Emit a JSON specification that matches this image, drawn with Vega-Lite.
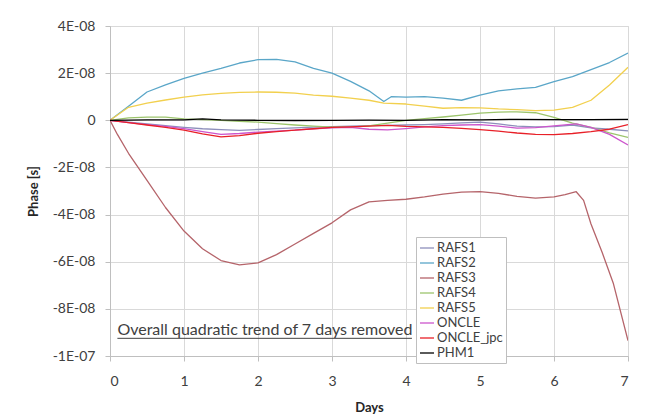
{
  "$schema": "https://vega.github.io/schema/vega-lite/v6.json",
  "width": 518,
  "height": 330,
  "autosize": {"type": "none"},
  "padding": {"left": 110, "top": 26, "right": 20, "bottom": 63},
  "background": "white",
  "config": {
    "font": "Lato",
    "view": {"stroke": "#d9d9d9"},
    "axis": {
      "gridColor": "#d9d9d9",
      "domainColor": "#bfbfbf",
      "tickColor": "#bfbfbf",
      "tickSize": 5,
      "labelColor": "#404040",
      "labelFontSize": 14,
      "titleFontSize": 13,
      "titleFontWeight": "bold",
      "titleColor": "#262626"
    },
    "legend": {
      "orient": "none",
      "legendX": 306,
      "legendY": 211,
      "strokeColor": "#bfbfbf",
      "fillColor": "white",
      "padding": 3,
      "symbolType": "stroke",
      "symbolSize": 196,
      "labelFontSize": 13,
      "labelColor": "#404040",
      "rowPadding": 0,
      "labelOffset": 2
    }
  },
  "data": {
    "values": [
      {"series": "RAFS1", "day": 0, "phase": 0},
      {"series": "RAFS1", "day": 0.25, "phase": -0.8e-9},
      {"series": "RAFS1", "day": 0.5, "phase": -1.5e-9},
      {"series": "RAFS1", "day": 0.75, "phase": -2.3e-9},
      {"series": "RAFS1", "day": 1, "phase": -3e-9},
      {"series": "RAFS1", "day": 1.25, "phase": -3.6e-9},
      {"series": "RAFS1", "day": 1.5, "phase": -4e-9},
      {"series": "RAFS1", "day": 1.75, "phase": -4.3e-9},
      {"series": "RAFS1", "day": 2, "phase": -3.9e-9},
      {"series": "RAFS1", "day": 2.25, "phase": -3.5e-9},
      {"series": "RAFS1", "day": 2.5, "phase": -3.2e-9},
      {"series": "RAFS1", "day": 2.75, "phase": -2.9e-9},
      {"series": "RAFS1", "day": 3, "phase": -2.7e-9},
      {"series": "RAFS1", "day": 3.25, "phase": -2.5e-9},
      {"series": "RAFS1", "day": 3.5, "phase": -2.3e-9},
      {"series": "RAFS1", "day": 3.75, "phase": -2.2e-9},
      {"series": "RAFS1", "day": 4, "phase": -2e-9},
      {"series": "RAFS1", "day": 4.25, "phase": -1.8e-9},
      {"series": "RAFS1", "day": 4.5, "phase": -1.5e-9},
      {"series": "RAFS1", "day": 4.75, "phase": -1.1e-9},
      {"series": "RAFS1", "day": 5, "phase": -0.8e-9},
      {"series": "RAFS1", "day": 5.25, "phase": -1.5e-9},
      {"series": "RAFS1", "day": 5.5, "phase": -2.5e-9},
      {"series": "RAFS1", "day": 5.75, "phase": -2.8e-9},
      {"series": "RAFS1", "day": 6, "phase": -2.7e-9},
      {"series": "RAFS1", "day": 6.25, "phase": -2e-9},
      {"series": "RAFS1", "day": 6.5, "phase": -3.2e-9},
      {"series": "RAFS1", "day": 6.75, "phase": -3.8e-9},
      {"series": "RAFS1", "day": 7, "phase": -4.5e-9},

      {"series": "RAFS2", "day": 0, "phase": 0},
      {"series": "RAFS2", "day": 0.25, "phase": 6e-9},
      {"series": "RAFS2", "day": 0.5, "phase": 12e-9},
      {"series": "RAFS2", "day": 0.75, "phase": 15e-9},
      {"series": "RAFS2", "day": 1, "phase": 17.8e-9},
      {"series": "RAFS2", "day": 1.25, "phase": 20e-9},
      {"series": "RAFS2", "day": 1.5, "phase": 22e-9},
      {"series": "RAFS2", "day": 1.75, "phase": 24.3e-9},
      {"series": "RAFS2", "day": 2, "phase": 25.7e-9},
      {"series": "RAFS2", "day": 2.25, "phase": 25.8e-9},
      {"series": "RAFS2", "day": 2.5, "phase": 24.8e-9},
      {"series": "RAFS2", "day": 2.75, "phase": 22e-9},
      {"series": "RAFS2", "day": 3, "phase": 20e-9},
      {"series": "RAFS2", "day": 3.25, "phase": 16.5e-9},
      {"series": "RAFS2", "day": 3.5, "phase": 12.5e-9},
      {"series": "RAFS2", "day": 3.7, "phase": 8e-9},
      {"series": "RAFS2", "day": 3.8, "phase": 10e-9},
      {"series": "RAFS2", "day": 4, "phase": 9.8e-9},
      {"series": "RAFS2", "day": 4.25, "phase": 10e-9},
      {"series": "RAFS2", "day": 4.5, "phase": 9.4e-9},
      {"series": "RAFS2", "day": 4.75, "phase": 8.5e-9},
      {"series": "RAFS2", "day": 5, "phase": 10.7e-9},
      {"series": "RAFS2", "day": 5.25, "phase": 12.5e-9},
      {"series": "RAFS2", "day": 5.5, "phase": 13.3e-9},
      {"series": "RAFS2", "day": 5.75, "phase": 14e-9},
      {"series": "RAFS2", "day": 6, "phase": 16.4e-9},
      {"series": "RAFS2", "day": 6.25, "phase": 18.5e-9},
      {"series": "RAFS2", "day": 6.5, "phase": 21.5e-9},
      {"series": "RAFS2", "day": 6.75, "phase": 24.5e-9},
      {"series": "RAFS2", "day": 7, "phase": 28.5e-9},

      {"series": "RAFS3", "day": 0, "phase": 0},
      {"series": "RAFS3", "day": 0.1, "phase": -6e-9},
      {"series": "RAFS3", "day": 0.25, "phase": -14e-9},
      {"series": "RAFS3", "day": 0.5, "phase": -25.5e-9},
      {"series": "RAFS3", "day": 0.75, "phase": -37e-9},
      {"series": "RAFS3", "day": 1, "phase": -47e-9},
      {"series": "RAFS3", "day": 1.25, "phase": -54.5e-9},
      {"series": "RAFS3", "day": 1.5, "phase": -59.5e-9},
      {"series": "RAFS3", "day": 1.75, "phase": -61.3e-9},
      {"series": "RAFS3", "day": 2, "phase": -60.5e-9},
      {"series": "RAFS3", "day": 2.25, "phase": -57e-9},
      {"series": "RAFS3", "day": 2.5, "phase": -52.5e-9},
      {"series": "RAFS3", "day": 2.75, "phase": -48e-9},
      {"series": "RAFS3", "day": 3, "phase": -43.5e-9},
      {"series": "RAFS3", "day": 3.25, "phase": -38e-9},
      {"series": "RAFS3", "day": 3.5, "phase": -34.6e-9},
      {"series": "RAFS3", "day": 3.75, "phase": -34e-9},
      {"series": "RAFS3", "day": 4, "phase": -33.5e-9},
      {"series": "RAFS3", "day": 4.25, "phase": -32.5e-9},
      {"series": "RAFS3", "day": 4.5, "phase": -31.3e-9},
      {"series": "RAFS3", "day": 4.75, "phase": -30.5e-9},
      {"series": "RAFS3", "day": 5, "phase": -30.3e-9},
      {"series": "RAFS3", "day": 5.25, "phase": -31e-9},
      {"series": "RAFS3", "day": 5.5, "phase": -32.3e-9},
      {"series": "RAFS3", "day": 5.75, "phase": -33e-9},
      {"series": "RAFS3", "day": 6, "phase": -32.5e-9},
      {"series": "RAFS3", "day": 6.15, "phase": -31.5e-9},
      {"series": "RAFS3", "day": 6.3, "phase": -30.3e-9},
      {"series": "RAFS3", "day": 6.4, "phase": -34e-9},
      {"series": "RAFS3", "day": 6.5, "phase": -44e-9},
      {"series": "RAFS3", "day": 6.65, "phase": -56e-9},
      {"series": "RAFS3", "day": 6.8, "phase": -69e-9},
      {"series": "RAFS3", "day": 7, "phase": -93.5e-9},

      {"series": "RAFS4", "day": 0, "phase": 0},
      {"series": "RAFS4", "day": 0.25, "phase": 1e-9},
      {"series": "RAFS4", "day": 0.5, "phase": 1.3e-9},
      {"series": "RAFS4", "day": 0.75, "phase": 1.3e-9},
      {"series": "RAFS4", "day": 1, "phase": 0.6e-9},
      {"series": "RAFS4", "day": 1.25, "phase": 0.3e-9},
      {"series": "RAFS4", "day": 1.5, "phase": 0},
      {"series": "RAFS4", "day": 1.75, "phase": -0.4e-9},
      {"series": "RAFS4", "day": 2, "phase": -0.8e-9},
      {"series": "RAFS4", "day": 2.25, "phase": -1.4e-9},
      {"series": "RAFS4", "day": 2.5, "phase": -2e-9},
      {"series": "RAFS4", "day": 2.75, "phase": -2.5e-9},
      {"series": "RAFS4", "day": 3, "phase": -2.9e-9},
      {"series": "RAFS4", "day": 3.25, "phase": -2.9e-9},
      {"series": "RAFS4", "day": 3.5, "phase": -2.4e-9},
      {"series": "RAFS4", "day": 3.75, "phase": -1.2e-9},
      {"series": "RAFS4", "day": 4, "phase": 0},
      {"series": "RAFS4", "day": 4.25, "phase": 0.7e-9},
      {"series": "RAFS4", "day": 4.5, "phase": 1.4e-9},
      {"series": "RAFS4", "day": 4.75, "phase": 2.2e-9},
      {"series": "RAFS4", "day": 5, "phase": 3e-9},
      {"series": "RAFS4", "day": 5.25, "phase": 3.5e-9},
      {"series": "RAFS4", "day": 5.5, "phase": 3.6e-9},
      {"series": "RAFS4", "day": 5.75, "phase": 3.2e-9},
      {"series": "RAFS4", "day": 6, "phase": 1.2e-9},
      {"series": "RAFS4", "day": 6.25, "phase": -1.2e-9},
      {"series": "RAFS4", "day": 6.5, "phase": -3e-9},
      {"series": "RAFS4", "day": 6.75, "phase": -5.3e-9},
      {"series": "RAFS4", "day": 7, "phase": -7.3e-9},

      {"series": "RAFS5", "day": 0, "phase": 0},
      {"series": "RAFS5", "day": 0.25, "phase": 5.5e-9},
      {"series": "RAFS5", "day": 0.5, "phase": 7.3e-9},
      {"series": "RAFS5", "day": 0.75, "phase": 8.6e-9},
      {"series": "RAFS5", "day": 1, "phase": 9.8e-9},
      {"series": "RAFS5", "day": 1.25, "phase": 10.8e-9},
      {"series": "RAFS5", "day": 1.5, "phase": 11.4e-9},
      {"series": "RAFS5", "day": 1.75, "phase": 11.8e-9},
      {"series": "RAFS5", "day": 2, "phase": 12e-9},
      {"series": "RAFS5", "day": 2.25, "phase": 11.9e-9},
      {"series": "RAFS5", "day": 2.5, "phase": 11.5e-9},
      {"series": "RAFS5", "day": 2.75, "phase": 10.7e-9},
      {"series": "RAFS5", "day": 3, "phase": 10.2e-9},
      {"series": "RAFS5", "day": 3.25, "phase": 9.4e-9},
      {"series": "RAFS5", "day": 3.5, "phase": 8.5e-9},
      {"series": "RAFS5", "day": 3.7, "phase": 7.3e-9},
      {"series": "RAFS5", "day": 4, "phase": 6.9e-9},
      {"series": "RAFS5", "day": 4.25, "phase": 6e-9},
      {"series": "RAFS5", "day": 4.5, "phase": 5.1e-9},
      {"series": "RAFS5", "day": 4.75, "phase": 5.4e-9},
      {"series": "RAFS5", "day": 5, "phase": 5.3e-9},
      {"series": "RAFS5", "day": 5.25, "phase": 4.8e-9},
      {"series": "RAFS5", "day": 5.5, "phase": 4.5e-9},
      {"series": "RAFS5", "day": 5.75, "phase": 4.1e-9},
      {"series": "RAFS5", "day": 6, "phase": 4.3e-9},
      {"series": "RAFS5", "day": 6.25, "phase": 5.5e-9},
      {"series": "RAFS5", "day": 6.5, "phase": 8.5e-9},
      {"series": "RAFS5", "day": 6.75, "phase": 15e-9},
      {"series": "RAFS5", "day": 7, "phase": 22.5e-9},

      {"series": "ONCLE", "day": 0, "phase": 0},
      {"series": "ONCLE", "day": 0.25, "phase": -1e-9},
      {"series": "ONCLE", "day": 0.5, "phase": -1.8e-9},
      {"series": "ONCLE", "day": 0.75, "phase": -2.6e-9},
      {"series": "ONCLE", "day": 1, "phase": -3.5e-9},
      {"series": "ONCLE", "day": 1.25, "phase": -4.8e-9},
      {"series": "ONCLE", "day": 1.5, "phase": -6e-9},
      {"series": "ONCLE", "day": 1.75, "phase": -5.6e-9},
      {"series": "ONCLE", "day": 2, "phase": -5e-9},
      {"series": "ONCLE", "day": 2.25, "phase": -4.6e-9},
      {"series": "ONCLE", "day": 2.5, "phase": -4.2e-9},
      {"series": "ONCLE", "day": 2.75, "phase": -3.6e-9},
      {"series": "ONCLE", "day": 3, "phase": -3.2e-9},
      {"series": "ONCLE", "day": 3.25, "phase": -3e-9},
      {"series": "ONCLE", "day": 3.5, "phase": -3.8e-9},
      {"series": "ONCLE", "day": 3.75, "phase": -4.1e-9},
      {"series": "ONCLE", "day": 4, "phase": -3.5e-9},
      {"series": "ONCLE", "day": 4.25, "phase": -2.8e-9},
      {"series": "ONCLE", "day": 4.5, "phase": -2.3e-9},
      {"series": "ONCLE", "day": 4.75, "phase": -2e-9},
      {"series": "ONCLE", "day": 5, "phase": -1.8e-9},
      {"series": "ONCLE", "day": 5.25, "phase": -2.5e-9},
      {"series": "ONCLE", "day": 5.5, "phase": -3.3e-9},
      {"series": "ONCLE", "day": 5.75, "phase": -3.1e-9},
      {"series": "ONCLE", "day": 6, "phase": -2.4e-9},
      {"series": "ONCLE", "day": 6.3, "phase": -1.5e-9},
      {"series": "ONCLE", "day": 6.5, "phase": -3e-9},
      {"series": "ONCLE", "day": 6.75, "phase": -6e-9},
      {"series": "ONCLE", "day": 7, "phase": -10.5e-9},

      {"series": "ONCLE_jpc", "day": 0, "phase": 0},
      {"series": "ONCLE_jpc", "day": 0.25, "phase": -1e-9},
      {"series": "ONCLE_jpc", "day": 0.5, "phase": -2e-9},
      {"series": "ONCLE_jpc", "day": 0.75, "phase": -3e-9},
      {"series": "ONCLE_jpc", "day": 1, "phase": -4.2e-9},
      {"series": "ONCLE_jpc", "day": 1.25, "phase": -5.8e-9},
      {"series": "ONCLE_jpc", "day": 1.5, "phase": -7e-9},
      {"series": "ONCLE_jpc", "day": 1.75, "phase": -6.5e-9},
      {"series": "ONCLE_jpc", "day": 2, "phase": -5.5e-9},
      {"series": "ONCLE_jpc", "day": 2.25, "phase": -4.8e-9},
      {"series": "ONCLE_jpc", "day": 2.5, "phase": -4.2e-9},
      {"series": "ONCLE_jpc", "day": 2.75, "phase": -3.6e-9},
      {"series": "ONCLE_jpc", "day": 3, "phase": -3e-9},
      {"series": "ONCLE_jpc", "day": 3.25, "phase": -2.8e-9},
      {"series": "ONCLE_jpc", "day": 3.5, "phase": -2.5e-9},
      {"series": "ONCLE_jpc", "day": 3.75, "phase": -2.2e-9},
      {"series": "ONCLE_jpc", "day": 4, "phase": -2.6e-9},
      {"series": "ONCLE_jpc", "day": 4.25, "phase": -2.8e-9},
      {"series": "ONCLE_jpc", "day": 4.5, "phase": -3e-9},
      {"series": "ONCLE_jpc", "day": 4.75, "phase": -3.4e-9},
      {"series": "ONCLE_jpc", "day": 5, "phase": -4e-9},
      {"series": "ONCLE_jpc", "day": 5.25, "phase": -4.6e-9},
      {"series": "ONCLE_jpc", "day": 5.5, "phase": -5.4e-9},
      {"series": "ONCLE_jpc", "day": 5.75, "phase": -6e-9},
      {"series": "ONCLE_jpc", "day": 6, "phase": -6.1e-9},
      {"series": "ONCLE_jpc", "day": 6.25, "phase": -5.6e-9},
      {"series": "ONCLE_jpc", "day": 6.5, "phase": -4.8e-9},
      {"series": "ONCLE_jpc", "day": 6.75, "phase": -3.8e-9},
      {"series": "ONCLE_jpc", "day": 7, "phase": -1.8e-9},

      {"series": "PHM1", "day": 0, "phase": 0},
      {"series": "PHM1", "day": 0.5, "phase": 0.2e-9},
      {"series": "PHM1", "day": 1, "phase": 0.2e-9},
      {"series": "PHM1", "day": 1.25, "phase": 0.6e-9},
      {"series": "PHM1", "day": 1.5, "phase": 0.2e-9},
      {"series": "PHM1", "day": 2, "phase": 0},
      {"series": "PHM1", "day": 2.5, "phase": -0.1e-9},
      {"series": "PHM1", "day": 3, "phase": 0},
      {"series": "PHM1", "day": 3.5, "phase": 0.1e-9},
      {"series": "PHM1", "day": 4, "phase": 0},
      {"series": "PHM1", "day": 4.5, "phase": 0.3e-9},
      {"series": "PHM1", "day": 5, "phase": 0.2e-9},
      {"series": "PHM1", "day": 5.5, "phase": 0.4e-9},
      {"series": "PHM1", "day": 6, "phase": 0.3e-9},
      {"series": "PHM1", "day": 6.5, "phase": 0.3e-9},
      {"series": "PHM1", "day": 7, "phase": 0.4e-9}
    ]
  },
  "layer": [
    {
      "mark": {"type": "line", "strokeJoin": "round", "clip": true},
      "encoding": {
        "x": {
          "field": "day", "type": "quantitative",
          "scale": {"domain": [0, 7], "nice": false, "zero": false},
          "axis": {"title": "Days", "values": [0, 1, 2, 3, 4, 5, 6, 7], "format": "d", "labelPadding": 13, "titlePadding": 13}
        },
        "y": {
          "field": "phase", "type": "quantitative",
          "scale": {"domain": [-1e-7, 4e-8], "nice": false, "zero": false},
          "axis": {
            "title": "Phase [s]",
            "values": [-1e-7, -8e-8, -6e-8, -4e-8, -2e-8, 0, 2e-8, 4e-8],
            "labelExpr": "datum.value == 0 ? '0' : (datum.value < -9.9e-8 ? '-1E-07' : round(datum.value * 1e8) + 'E-08')",
            "labelPadding": 10,
            "titlePadding": 12
          }
        },
        "color": {
          "field": "series", "type": "nominal",
          "scale": {
            "domain": ["RAFS1", "RAFS2", "RAFS3", "RAFS4", "RAFS5", "ONCLE", "ONCLE_jpc", "PHM1"],
            "range": ["#8d8fbb", "#5aa6c8", "#b5646a", "#9cc46c", "#f2d04e", "#cc55cc", "#e82028", "#000000"]
          },
          "legend": {"title": null}
        },
        "strokeWidth": {
          "field": "series", "type": "nominal",
          "scale": {
            "domain": ["RAFS1", "RAFS2", "RAFS3", "RAFS4", "RAFS5", "ONCLE", "ONCLE_jpc", "PHM1"],
            "range": [1.3, 1.3, 1.3, 1.3, 1.3, 1.3, 2.6, 2.6]
          },
          "legend": {"title": null}
        }
      }
    },
    {
      "data": {"values": [{}]},
      "mark": {"type": "text", "align": "left", "baseline": "alphabetic", "fontSize": 16, "color": "#404040", "font": "Lato"},
      "encoding": {
        "x": {"datum": 0.1, "type": "quantitative"},
        "y": {"datum": -9.1e-8, "type": "quantitative"},
        "text": {"value": "Overall quadratic trend of 7 days removed"}
      }
    },
    {
      "data": {"values": [{}]},
      "mark": {"type": "rule", "color": "#404040", "strokeWidth": 1},
      "encoding": {
        "x": {"datum": 0.1, "type": "quantitative"},
        "x2": {"datum": 4.08},
        "y": {"datum": -9.25e-8, "type": "quantitative"}
      }
    }
  ]
}
